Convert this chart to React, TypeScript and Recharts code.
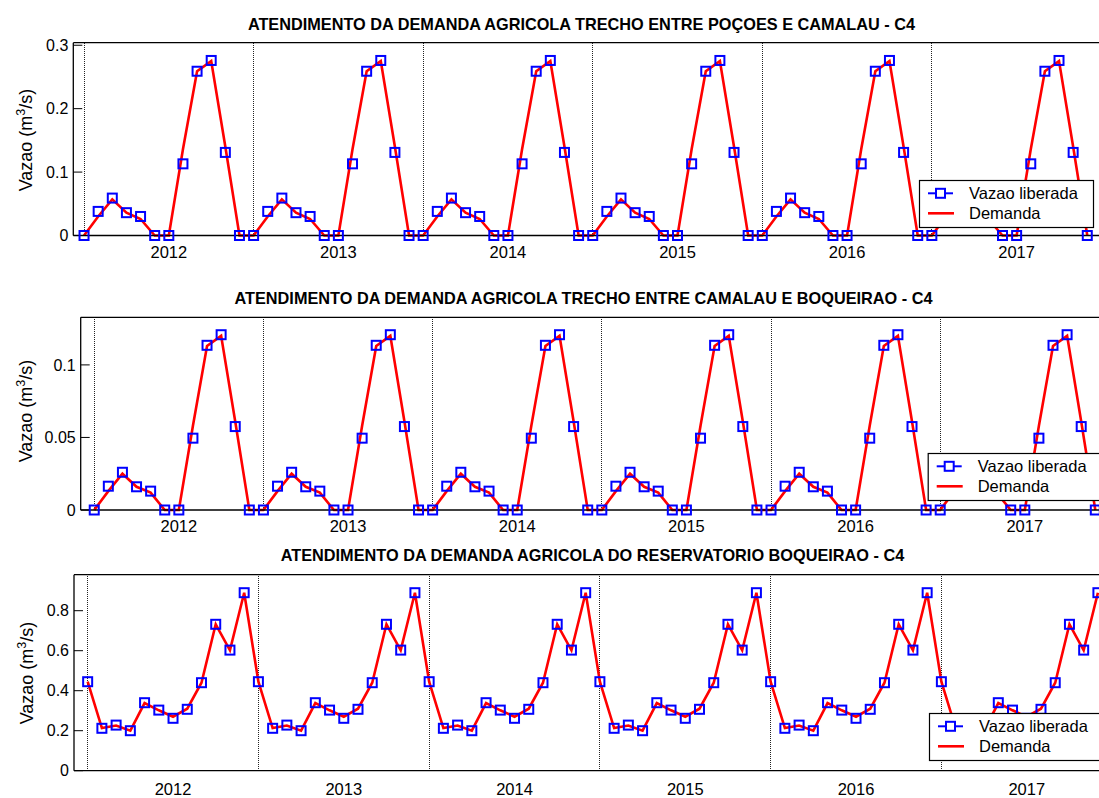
import { LineChart, Line, XAxis, YAxis, ReferenceLine } from 'recharts';

const FONT = '"Liberation Sans", Arial, Helvetica, sans-serif';

const years = [2012, 2013, 2014, 2015, 2016, 2017];

// trecho entre Poçoes e Camalau (jan..dez)
const liberadaPC = [0, 0.038, 0.059, 0.036, 0.03, 0, 0, 0.113, 0.259, 0.276, 0.131, 0];
const demandaPC = [0, 0.03, 0.057, 0.036, 0.026, 0, 0, 0.136, 0.259, 0.275, 0.14, 0];

// trecho entre Camalau e Boqueirao
const liberadaCB = [0, 0.0164, 0.026, 0.016, 0.013, 0, 0, 0.0495, 0.1135, 0.1208, 0.0575, 0];
const demandaCB = [0, 0.013, 0.025, 0.016, 0.012, 0, 0, 0.058, 0.113, 0.12, 0.061, 0];

// reservatorio Boqueirao
const liberadaBQ = [0.445, 0.212, 0.228, 0.2, 0.34, 0.303, 0.262, 0.307, 0.44, 0.732, 0.603, 0.89];
const demandaBQ = [0.445, 0.213, 0.226, 0.2, 0.338, 0.302, 0.27, 0.31, 0.44, 0.732, 0.602, 0.89];

const ticksPC = [0, 0.1, 0.2, 0.3];
const ticksCB = [0, 0.05, 0.1];
const ticksBQ = [0, 0.2, 0.4, 0.6, 0.8];

function buildRows(lib: number[], dem: number[]) {
    const rows: { t: number; liberada: number; demanda: number }[] = [];
    years.forEach((_, yi) => {
        lib.forEach((v, m) => {
            rows.push({ t: yi * 12 + m, liberada: v, demanda: dem[m] });
        });
    });
    return rows;
}

const yearStarts = years.map((_, i) => i * 12);
const yearMids = years.map((_, i) => i * 12 + 6);

const Square = (props: any) => {
    const { cx, cy, index } = props;
    if (cx == null || cy == null) return <g key={`s${index}`} />;
    return (
        <rect
            key={`s${index}`}
            x={cx - 4.5}
            y={cy - 4.5}
            width={9}
            height={9}
            fill="none"
            stroke="#0000ff"
            strokeWidth={2}
        />
    );
};

const axisLine = { stroke: '#000', strokeWidth: 1.3 };
const tickText = { fill: '#000', fontSize: 16, fontFamily: FONT };
const xTickText = { fill: '#000', fontSize: 16.5, fontFamily: FONT };

const CHART_W = 1120;
const LEFT_W = 60;
const RIGHT_W = 10;
const BOTTOM_H = 20;
const TOP_H = 5;

interface PanelCfg {
    top: number;
    height: number;
    plot: { left: number; right: number; top: number; bottom: number }; // page coords
    xDomain: [number, number];
    yDomain: [number, number];
    yTicks: number[];
    xTickMargin: number;
    data: { t: number; liberada: number; demanda: number }[];
}

const panels: PanelCfg[] = [
    {
        top: 0,
        height: 262,
        plot: { left: 73.3, right: 1100, top: 42.7, bottom: 235.5 },
        xDomain: [-0.76, 71.9],
        yDomain: [0, 0.304],
        yTicks: ticksPC,
        xTickMargin: 11.2,
        data: buildRows(liberadaPC, demandaPC),
    },
    {
        top: 270,
        height: 265,
        plot: { left: 80.7, right: 1108, top: 317.3, bottom: 510 },
        xDomain: [-0.96, 71.9],
        yDomain: [0, 0.1328],
        yTicks: ticksCB,
        xTickMargin: 10,
        data: buildRows(liberadaCB, demandaCB),
    },
    {
        top: 540,
        height: 258,
        plot: { left: 74, right: 1110, top: 574.7, bottom: 770.7 },
        xDomain: [-0.96, 71.85],
        yDomain: [0, 0.98],
        yTicks: ticksBQ,
        xTickMargin: 12.6,
        data: buildRows(liberadaBQ, demandaBQ),
    },
];

const titles = [
    { x: 581.5, y: 29.5, text: 'ATENDIMENTO DA DEMANDA AGRICOLA TRECHO ENTRE POÇOES E CAMALAU - C4' },
    { x: 583.5, y: 303.5, text: 'ATENDIMENTO DA DEMANDA AGRICOLA TRECHO ENTRE CAMALAU E BOQUEIRAO - C4' },
    { x: 592.5, y: 560.7, text: 'ATENDIMENTO DA DEMANDA AGRICOLA DO RESERVATORIO BOQUEIRAO - C4' },
];

const yLabels = [
    { x: 31.5, y: 140 },
    { x: 31.7, y: 411 },
    { x: 33, y: 673 },
];

const legends = [
    { x: 919, y: 180 },
    { x: 927.7, y: 453 },
    { x: 929, y: 713 },
];

function Panel({ cfg }: { cfg: PanelCfg }) {
    const margin = {
        left: cfg.plot.left - LEFT_W,
        right: CHART_W - cfg.plot.right - RIGHT_W,
        top: cfg.plot.top - cfg.top - TOP_H,
        bottom: cfg.top + cfg.height - cfg.plot.bottom - BOTTOM_H,
    };
    return (
        <div style={{ position: 'absolute', left: 0, top: cfg.top }}>
            <LineChart width={CHART_W} height={cfg.height} data={cfg.data} margin={margin}>
                <XAxis
                    xAxisId="b"
                    dataKey="t"
                    type="number"
                    domain={cfg.xDomain}
                    ticks={yearMids}
                    interval={0}
                    tickFormatter={(v: number) => String(years[Math.round((v - 6) / 12)])}
                    tickLine={false}
                    tickSize={0}
                    tickMargin={cfg.xTickMargin}
                    height={BOTTOM_H}
                    axisLine={axisLine}
                    tick={xTickText}
                />
                <XAxis
                    xAxisId="t"
                    orientation="top"
                    dataKey="t"
                    type="number"
                    domain={cfg.xDomain}
                    tick={false}
                    tickLine={false}
                    height={TOP_H}
                    axisLine={axisLine}
                />
                <YAxis
                    yAxisId="l"
                    type="number"
                    domain={cfg.yDomain}
                    ticks={cfg.yTicks}
                    interval={0}
                    width={LEFT_W}
                    tickSize={-9}
                    tickMargin={14}
                    tickLine={{ stroke: '#000', strokeWidth: 1 }}
                    axisLine={axisLine}
                    tick={tickText}
                />
                <YAxis
                    yAxisId="r"
                    orientation="right"
                    type="number"
                    domain={cfg.yDomain}
                    ticks={cfg.yTicks}
                    interval={0}
                    width={RIGHT_W}
                    tickSize={-9}
                    tickLine={{ stroke: '#000', strokeWidth: 1 }}
                    axisLine={axisLine}
                    tick={() => <g />}
                />
                {yearStarts.map((x) => (
                    <ReferenceLine
                        key={x}
                        x={x}
                        xAxisId="b"
                        yAxisId="l"
                        stroke="#222"
                        strokeWidth={1}
                        strokeDasharray="1 1"
                        shapeRendering="crispEdges"
                    />
                ))}
                <Line
                    xAxisId="b"
                    yAxisId="l"
                    dataKey="liberada"
                    stroke="none"
                    dot={Square}
                    activeDot={false}
                    isAnimationActive={false}
                />
                <Line
                    xAxisId="b"
                    yAxisId="l"
                    dataKey="demanda"
                    stroke="#ff0000"
                    strokeWidth={2.6}
                    dot={false}
                    activeDot={false}
                    isAnimationActive={false}
                />
            </LineChart>
        </div>
    );
}

export default function App() {
    return (
        <div
            style={{
                position: 'fixed',
                left: 0,
                top: 0,
                width: 1099,
                height: 798,
                overflow: 'hidden',
                background: '#fff',
                fontFamily: FONT,
            }}
        >
            {panels.map((p, i) => (
                <Panel key={i} cfg={p} />
            ))}
            <svg
                width={1099}
                height={798}
                style={{ position: 'absolute', left: 0, top: 0, pointerEvents: 'none' }}
            >
                {titles.map((t) => (
                    <text
                        key={t.text}
                        x={t.x}
                        y={t.y}
                        textAnchor="middle"
                        fontFamily={FONT}
                        fontWeight="bold"
                        fontSize={16.3}
                        fill="#000"
                    >
                        {t.text}
                    </text>
                ))}
                {yLabels.map((l, i) => (
                    <text
                        key={i}
                        transform={`translate(${l.x},${l.y}) rotate(-90)`}
                        textAnchor="middle"
                        fontFamily={FONT}
                        fontSize={18}
                        fill="#000"
                    >
                        Vazao (m
                        <tspan dy={-7} fontSize={12.5}>
                            3
                        </tspan>
                        <tspan dy={7}>/s)</tspan>
                    </text>
                ))}
                {legends.map((g, i) => (
                    <g key={i} transform={`translate(${g.x},${g.y})`}>
                        <rect x={0.5} y={0.5} width={174} height={47} fill="#fff" stroke="#000" strokeWidth={1.2} />
                        <line x1={9} x2={34} y1={13.3} y2={13.3} stroke="#0000ff" strokeWidth={2} />
                        <rect x={17} y={8.8} width={9} height={9} fill="#fff" stroke="#0000ff" strokeWidth={2} />
                        <text x={50} y={18.5} fontFamily={FONT} fontSize={16.5} fill="#000">
                            Vazao liberada
                        </text>
                        <line x1={9} x2={35} y1={33.3} y2={33.3} stroke="#ff0000" strokeWidth={2.6} />
                        <text x={50} y={39} fontFamily={FONT} fontSize={16.5} fill="#000">
                            Demanda
                        </text>
                    </g>
                ))}
            </svg>
        </div>
    );
}
